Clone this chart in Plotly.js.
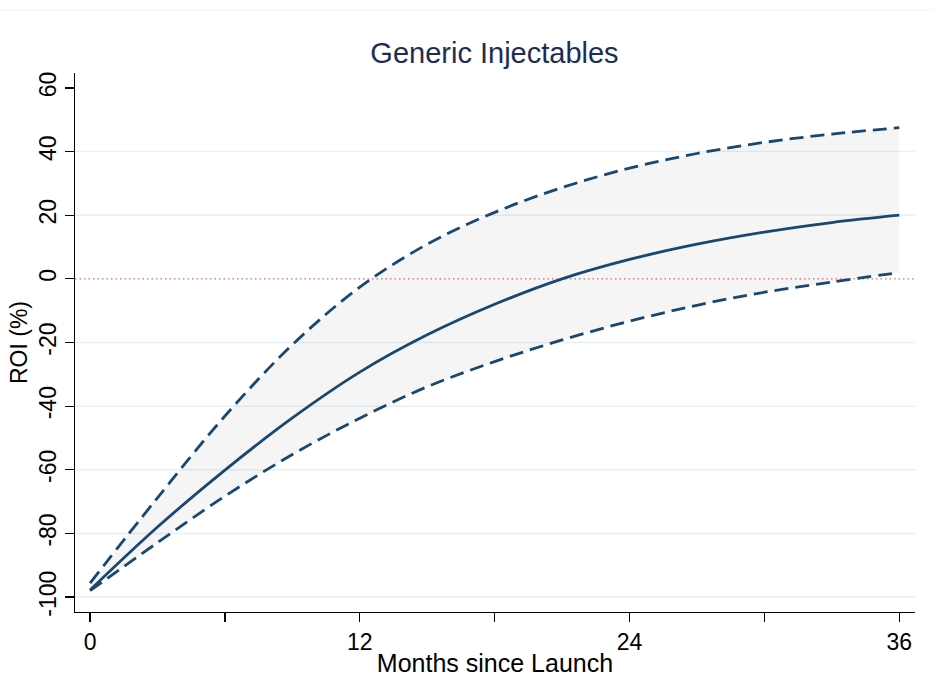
<!DOCTYPE html>
<html>
<head>
<meta charset="utf-8">
<script src="https://cdn.plot.ly/plotly-3.0.1.min.js"></script>
<style>html,body{margin:0;padding:0;background:#fff;}#chart{width:933px;height:677px;}</style>
</head>
<body>
<div id="chart"></div>
<script>
const months = [0, 3, 6, 9, 12, 15, 18, 21, 24, 27, 30, 33, 36];
const roiMean = [-97.8, -78, -60.1, -43.7, -29.3, -17.6, -8, 0, 6.1, 10.9, 14.7, 17.7, 20];
const roiUpper = [-95.6, -68.8, -43.1, -20.7, -2.6, 10.9, 20.9, 28.7, 34.8, 39.4, 42.9, 45.5, 47.5];
const roiLower = [-98, -82.9, -68.3, -55.2, -43.8, -33.9, -26, -19.2, -13.3, -8.3, -4.2, -1, 2];
const xTicks = [0, 12, 24, 36];
const yTicks = [-100, -80, -60, -40, -20, 0, 20, 40, 60];
const titleText = "Generic Injectables";
const xTitle = "Months since Launch";
const yTitle = "ROI (%)";

const navy = "#1a476f";
const font = "Liberation Sans, Arial, sans-serif";

const traces = [
  {x: months, y: roiLower, mode: "lines", line: {width: 0, shape: "spline"}, hoverinfo: "skip", showlegend: false},
  {x: months, y: roiUpper, mode: "lines", line: {width: 0, shape: "spline"}, fill: "tonexty", fillcolor: "rgba(0,0,0,0.04)", hoverinfo: "skip", showlegend: false},
  {x: months, y: roiLower, mode: "lines", line: {color: navy, width: 2.8, dash: "14px,7px", shape: "spline"}, showlegend: false},
  {x: months, y: roiUpper, mode: "lines", line: {color: navy, width: 2.8, dash: "14px,7px", shape: "spline"}, showlegend: false},
  {x: months, y: roiMean, mode: "lines", line: {color: navy, width: 2.8, shape: "spline"}, showlegend: false}
];

const shapes = yTicks.filter(v => v !== 0 && v !== 60).map(v => ({
  type: "line", xref: "paper", x0: 0, x1: 1, yref: "y", y0: v, y1: v,
  line: {color: "#e8f0f2", width: 1.5}, layer: "below"
}));
shapes.push({type: "line", xref: "paper", x0: 0, x1: 1, yref: "y", y0: 0, y1: 0,
  line: {color: "#e0697c", width: 1.3, dash: "1.5px,3px"}, layer: "below"});
shapes.push({type: "line", xref: "paper", x0: -0.1, x1: 1.1, yref: "paper", y0: 1.117, y1: 1.117,
  line: {color: "#f3f3f3", width: 1}, layer: "below"});

const layout = {
  width: 933, height: 677,
  margin: {l: 75, r: 18, t: 73, b: 65},
  paper_bgcolor: "#ffffff", plot_bgcolor: "#ffffff",
  title: {text: titleText, font: {family: font, size: 29, color: "#1e2d53"}, x: 0.53, xanchor: "center", y: 0.922, yanchor: "middle"},
  xaxis: {
    range: [-0.67, 36.7], tickvals: xTicks, ticktext: xTicks.map(String),
    ticks: "outside", ticklen: 9, tickwidth: 1.2, tickcolor: "#000",
    showline: true, linecolor: "#000", linewidth: 1.2, showgrid: false, zeroline: false,
    minor: {dtick: 6, tick0: 0, ticks: "outside", ticklen: 9, tickwidth: 1.2, tickcolor: "#000", showgrid: false},
    tickfont: {family: font, size: 23, color: "#000"},
    title: {text: xTitle, font: {family: font, size: 25, color: "#000"}, standoff: 1}
  },
  yaxis: {
    range: [-104.7, 64.7], tickvals: yTicks, ticktext: yTicks.map(String),
    ticks: "outside", ticklen: 9, tickwidth: 1.2, tickcolor: "#000", tickangle: -90,
    showline: true, linecolor: "#000", linewidth: 1.2, showgrid: false, zeroline: false,
    tickfont: {family: font, size: 23, color: "#000"},
    title: {text: yTitle, font: {family: font, size: 23, color: "#000"}, standoff: 0}
  },
  shapes: shapes
};

Plotly.newPlot("chart", traces, layout, {displayModeBar: false, staticPlot: true});
</script>
</body>
</html>
